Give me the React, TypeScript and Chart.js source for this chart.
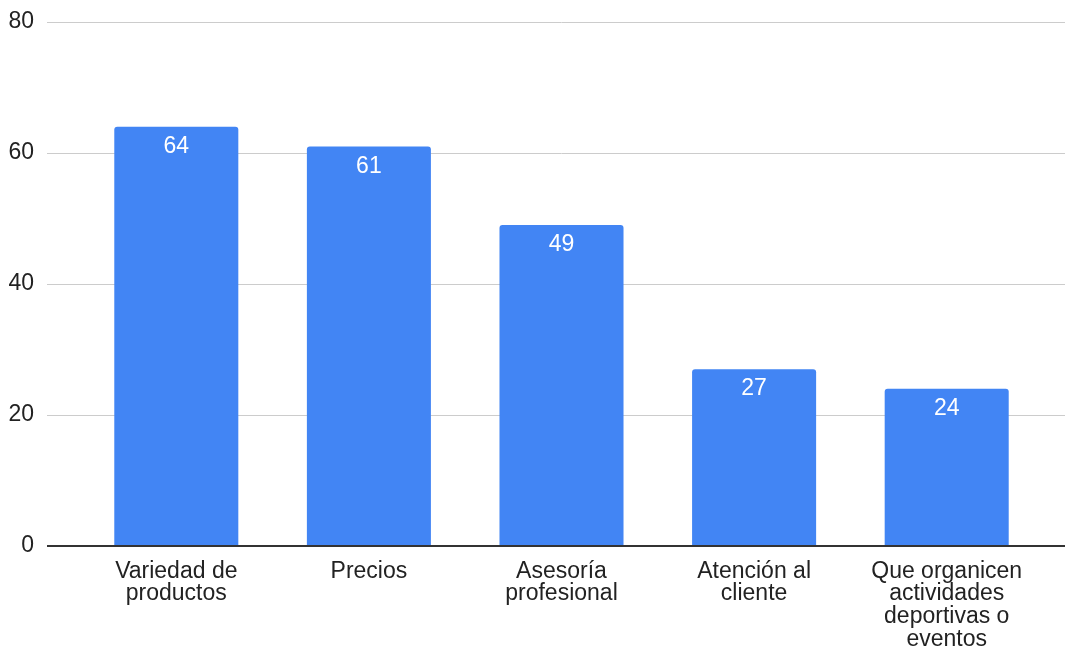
import React, { useEffect, useRef } from "react";
import { Chart, registerables } from "chart.js";

Chart.register(...registerables);

const categories: string[][] = [
  ["Variedad de", "productos"],
  ["Precios"],
  ["Asesoría", "profesional"],
  ["Atención al", "cliente"],
  ["Que organicen", "actividades", "deportivas o", "eventos"],
];
const values: number[] = [64, 61, 49, 27, 24];
const yTicks: number[] = [0, 20, 40, 60, 80];

const FONT = "'Liberation Sans', Arial, sans-serif";
const BAR = "#4285F4";

const valueLabels = {
  id: "valueLabels",
  afterDatasetsDraw(chart: any) {
    const ctx = chart.ctx;
    const meta = chart.getDatasetMeta(0);
    ctx.save();
    ctx.fillStyle = "#ffffff";
    ctx.font = `23px ${FONT}`;
    ctx.textAlign = "center";
    ctx.textBaseline = "middle";
    meta.data.forEach((el: any, i: number) => {
      ctx.fillText(String(chart.data.datasets[0].data[i]), el.x, el.y + 20);
    });
    ctx.restore();
  },
};

export default function App() {
  const ref = useRef<HTMLCanvasElement | null>(null);
  useEffect(() => {
    if (!ref.current) return;
    const gridColor = (c: any) => (c.tick && c.tick.value === 0 ? "#333333" : "#cccccc");
    const gridWidth = (c: any) => (c.tick && c.tick.value === 0 ? 2 : 1);
    const chart = new Chart(ref.current, {
      type: "bar",
      data: {
        labels: categories,
        datasets: [
          {
            data: values,
            backgroundColor: BAR,
            borderRadius: { topLeft: 3, topRight: 3, bottomLeft: 0, bottomRight: 0 },
            borderSkipped: "bottom",
            barPercentage: 0.644,
            categoryPercentage: 1,
          },
        ],
      },
      options: {
        responsive: false,
        animation: false,
        layout: { padding: { top: 22, left: 0, right: 0, bottom: 0 } },
        plugins: {
          legend: { display: false },
          tooltip: { enabled: false },
        },
        scales: {
          x: {
            grid: { display: false, drawTicks: false },
            border: { display: false },
            ticks: {
              color: "#222222",
              font: { family: FONT, size: 23, lineHeight: 0.99 },
              padding: 14,
              maxRotation: 0,
              autoSkip: false,
            },
            afterFit: (s: any) => {
              s.height = 105;
              s.paddingLeft = 0;
              s.paddingRight = 0;
            },
          },
          y: {
            position: "left",
            min: 0,
            max: 80,
            afterBuildTicks: (s: any) => {
              s.ticks = yTicks.map((v) => ({ value: v }));
            },
            grid: { color: gridColor, lineWidth: gridWidth, tickLength: 33, drawTicks: true },
            border: { display: false },
            ticks: {
              color: "#222222",
              font: { family: FONT, size: 23 },
              padding: 13,
            },
            afterFit: (s: any) => {
              s.width = 80;
              s.paddingTop = 0;
              s.paddingBottom = 0;
            },
          },
          yRight: {
            position: "right",
            min: 0,
            max: 80,
            afterBuildTicks: (s: any) => {
              s.ticks = yTicks.map((v) => ({ value: v }));
            },
            grid: { color: gridColor, lineWidth: gridWidth, tickLength: 22, drawTicks: true, drawOnChartArea: false },
            border: { display: false },
            ticks: { display: false },
            afterFit: (s: any) => {
              s.width = 22;
              s.paddingTop = 0;
              s.paddingBottom = 0;
            },
          },
        },
      },
      plugins: [valueLabels],
    });
    return () => chart.destroy();
  }, []);
  return (
    <canvas
      ref={ref}
      width={1065}
      height={651}
      style={{ position: "absolute", left: 0, top: 0, width: 1065, height: 651 }}
    />
  );
}
